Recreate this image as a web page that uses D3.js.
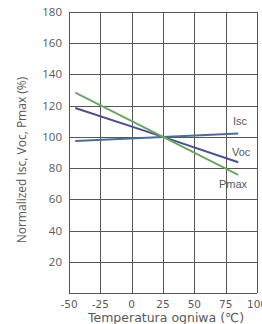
<!DOCTYPE html>
<html>
<head>
<meta charset="utf-8">
<script src="https://cdn.jsdelivr.net/npm/d3@7"></script>
<style>
  body { margin: 0; background: #fff; }
  svg { display: block; }
</style>
</head>
<body>
<div id="chart"></div>
<script>
// temperature range of the curves
const temps = [-45, 25, 85];
const isc = [97.3, 100, 102.1];
const voc = [118.5, 100, 83.8];
const pmax = [128.4, 100, 75.6];
const xTicks = [-50, -25, 0, 25, 50, 75, 100];
const yTicks = [20, 40, 60, 80, 100, 120, 140, 160, 180];

const width = 262, height = 324;
const margin = { top: 12, right: 5, bottom: 31, left: 69 };

const svg = d3.select("#chart")
    .append("svg")
    .attr("width", width)
    .attr("height", height);

const x = d3.scaleLinear().domain([-50, 100]).range([margin.left, width - margin.right]);
const y = d3.scaleLinear().domain([0, 180]).range([height - margin.bottom, margin.top]);

const gridColor = "#555";

// horizontal grid
svg.append("g")
    .selectAll("line")
    .data(yTicks)
    .enter()
    .append("line")
    .attr("x1", x(-50))
    .attr("x2", x(100))
    .attr("y1", (d) => Math.round(y(d)) + 0.5)
    .attr("y2", (d) => Math.round(y(d)) + 0.5)
    .attr("stroke", gridColor)
    .attr("stroke-width", 1);

// vertical grid
svg.append("g")
    .selectAll("line")
    .data(xTicks.slice(1))
    .enter()
    .append("line")
    .attr("x1", (d) => Math.round(x(d)) + 0.5)
    .attr("x2", (d) => Math.round(x(d)) + 0.5)
    .attr("y1", y(0))
    .attr("y2", y(180))
    .attr("stroke", gridColor)
    .attr("stroke-width", 1);

// axes
svg.append("line")
    .attr("x1", Math.round(x(-50)) + 0.5)
    .attr("x2", Math.round(x(-50)) + 0.5)
    .attr("y1", y(0))
    .attr("y2", y(180))
    .attr("stroke", gridColor);
svg.append("line")
    .attr("x1", x(-50))
    .attr("x2", x(100))
    .attr("y1", Math.round(y(0)) + 0.5)
    .attr("y2", Math.round(y(0)) + 0.5)
    .attr("stroke", gridColor);

// y tick labels
svg.append("g")
    .selectAll("text")
    .data(yTicks)
    .enter()
    .append("text")
    .attr("x", 62)
    .attr("y", (d) => y(d) + 4)
    .attr("text-anchor", "end")
    .attr("font-family", "Open Sans, sans-serif")
    .attr("font-size", 11.5)
    .attr("fill", "#595959")
    .text((d) => d);

// x tick labels
svg.append("g")
    .selectAll("text")
    .data(xTicks)
    .enter()
    .append("text")
    .attr("x", (d) => x(d))
    .attr("y", 308)
    .attr("text-anchor", "middle")
    .attr("font-family", "DejaVu Sans, sans-serif")
    .attr("font-size", 10.5)
    .attr("fill", "#595959")
    .text((d) => d);

// axis titles
svg.append("text")
    .attr("x", 166)
    .attr("y", 322)
    .attr("text-anchor", "middle")
    .attr("font-family", "DejaVu Sans, sans-serif")
    .attr("font-size", 12.5)
    .attr("fill", "#595959")
    .text("Temperatura ogniwa  (℃)");

svg.append("text")
    .attr("transform", "translate(26,160) rotate(-90)")
    .attr("text-anchor", "middle")
    .attr("font-family", "Open Sans, sans-serif")
    .attr("font-size", 12)
    .attr("fill", "#595959")
    .text("Normalized Isc, Voc, Pmax (%)");

// series
const series = [
    { name: "Isc", values: isc, color: "#4a6e96", lx: 233, ly: 125 },
    { name: "Voc", values: voc, color: "#4f4f8c", lx: 232, ly: 156 },
    { name: "Pmax", values: pmax, color: "#6aa866", lx: 219, ly: 188 },
];

const line = d3.line()
    .x((d) => x(d[0]))
    .y((d) => y(d[1]));

series.forEach((s) => {
    svg.append("path")
        .datum(temps.map((t, i) => [t, s.values[i]]))
        .attr("d", line)
        .attr("fill", "none")
        .attr("stroke", s.color)
        .attr("stroke-width", 2);

    svg.append("text")
        .attr("x", s.lx)
        .attr("y", s.ly)
        .attr("font-family", "Liberation Sans, sans-serif")
        .attr("font-size", 11)
        .attr("fill", "#595959")
        .text(s.name);
});
</script>
</body>
</html>
